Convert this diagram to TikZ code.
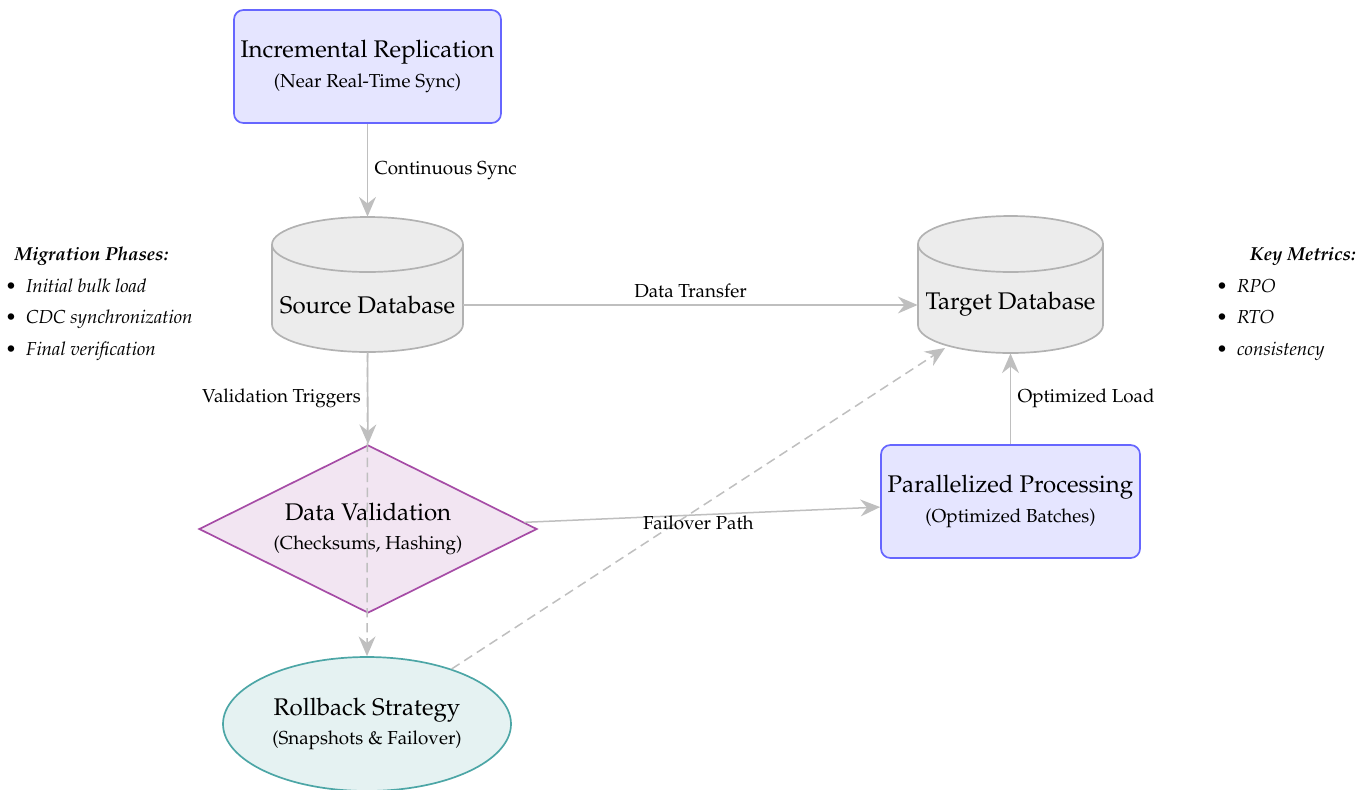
\documentclass[tikz,border=0pt]{standalone}
\usepackage[T1]{fontenc}
\usepackage{mathpazo}
\usetikzlibrary{shapes.geometric,arrows.meta}

\newcommand\unitpx{0.532pt}
\newcommand\titlefont{\fontsize{12.8pt}{15.4pt}\selectfont}

% database cylinder: centre x, half width, top cap centre y, bottom cap centre y, cap radius
\newcommand\drawdbcyl[5]{%
  \fill[dbfill] (#1-#2,#3) rectangle (#1+#2,#4);
  \fill[dbfill] (#1,#4) ellipse [x radius=#2, y radius=#5];
  \filldraw[dbfill,dbline] (#1,#3) ellipse [x radius=#2, y radius=#5];
  \draw[dbline] (#1-#2,#3) -- (#1-#2,#4) (#1+#2,#3) -- (#1+#2,#4);
  \begin{scope}
    \clip (#1-#2-5,#4) rectangle (#1+#2+5,#4+#5+5);
    \draw[dbline] (#1,#4) ellipse [x radius=#2, y radius=#5];
  \end{scope}}

\tikzset{
  dbfill/.style={fill=gray!15},
  dbline/.style={draw=gray!60, line width=0.9pt},
  dbname/.style={rectangle, draw=none, inner sep=0pt, font=\titlefont},
  procbox/.style={rectangle, rounded corners=5pt, draw=blue!60, fill=blue!10,
    line width=0.9pt, align=center, inner sep=2pt},
  checkbox/.style={diamond, draw=violet!70, fill=violet!10, line width=0.9pt,
    align=center, inner sep=0pt, aspect=2},
  fallback/.style={ellipse, draw=teal!70, fill=teal!10, line width=0.9pt,
    align=center, inner sep=0pt},
  conn/.style={draw=gray!50, line width=0.8pt,
    -{Stealth[length=10.5pt,width=9pt,inset=3.5pt]}},
  dashconn/.style={conn, dash pattern=on 5pt off 3pt},
  edgelabel/.style={font=\normalsize, text=black},
  sidehead/.style={font=\bfseries\itshape, inner sep=0pt},
  sideitem/.style={anchor=base west, inner sep=0pt, font=\itshape}
}

\begin{document}
\begin{tikzpicture}[x=\unitpx, y=-\unitpx]
\useasboundingbox (0,0) rectangle (1371,789);

% cylinders
\drawdbcyl{367.5}{95.5}{244.5}{324.5}{27.5}
\drawdbcyl{1010.5}{92.5}{244}{325}{28}

\node[dbname, minimum width=191*\unitpx, text height=51.1pt, text depth=20.7pt]
  (src) at (367.5,284.5) {Source Database};
\node[dbname, minimum width=185*\unitpx, text height=50pt, text depth=22.9pt]
  (tgt) at (1010.5,284.5) {Target Database};
\coordinate (tgtfoot) at (945,348);

% process nodes
\node[procbox, minimum width=267*\unitpx, minimum height=113*\unitpx] (inc) at (367.5,66.5)
  {{\titlefont Incremental Replication}\\[3.5pt](Near Real-Time Sync)};
\node[procbox, minimum width=259*\unitpx, minimum height=113*\unitpx] (par) at (1010.5,501.5)
  {{\titlefont Parallelized Processing}\\[3.5pt](Optimized Batches)};
\node[checkbox, minimum width=338*\unitpx, minimum height=168*\unitpx] (val) at (368,529)
  {{\titlefont Data Validation}\\[3.5pt](Checksums, Hashing)};
\node[fallback, minimum width=288*\unitpx, minimum height=134*\unitpx] (rb) at (367,724)
  {{\titlefont Rollback Strategy}\\[3.5pt](Snapshots \& Failover)};

% connectors
\draw[conn] (inc) -- node[edgelabel, right] {Continuous Sync} (src);
\draw[conn] ([yshift=-10.9pt]src.east) -- node[edgelabel, above] {Data Transfer}
  ([yshift=-10.9pt]tgt.west);
\draw[conn] (src.south) -- node[edgelabel, left] {Validation Triggers} (val.north);
\draw[dashconn] (src.south) -- (rb.north);
\draw[conn] (val) -- (par);
\draw[conn] (par) -- node[edgelabel, right] {Optimized Load} (tgt);
\draw[dashconn] (rb) -- node[edgelabel, below] {Failover Path} (tgtfoot);

% side notes
\node[sidehead] (phhead) at (91.5,256) {Migration Phases:};
\node[sideitem] (ph1) at (5,292.5) {\makebox[11pt][l]{\upshape\textbullet}Initial bulk load};
\node[sideitem] (ph2) at (5,323.5) {\makebox[11pt][l]{\upshape\textbullet}CDC synchronization};
\node[sideitem] (ph3) at (5,355.5) {\makebox[11pt][l]{\upshape\textbullet}Final verification};

\node[sidehead, anchor=east] (kmhead) at (1356,256) {Key Metrics:};
\node[sideitem] (km1) at (1216,292.5) {\makebox[11pt][l]{\upshape\textbullet}RPO};
\node[sideitem] (km2) at (1216,323.5) {\makebox[11pt][l]{\upshape\textbullet}RTO};
\node[sideitem] (km3) at (1216,355.5) {\makebox[11pt][l]{\upshape\textbullet}consistency};
\end{tikzpicture}
\end{document}
